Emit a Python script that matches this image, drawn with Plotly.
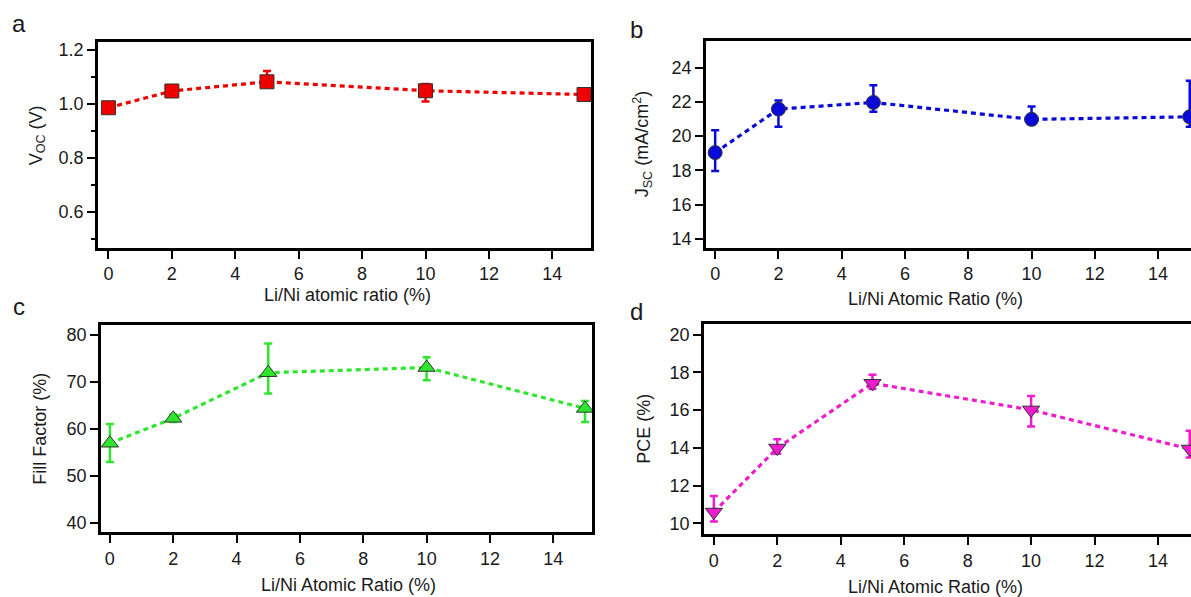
import plotly.graph_objects as go

# ---------------- data ----------------
ratio = [0, 2, 5, 10, 15]

voc = [0.985, 1.047, 1.081, 1.048, 1.034]
voc_err_up = [0.012, 0.012, 0.040, 0.025, 0.012]
voc_err_dn = [0.012, 0.012, 0.020, 0.040, 0.012]

jsc = [19.04, 21.58, 21.97, 20.98, 21.13]
jsc_err_up = [1.30, 0.50, 1.00, 0.75, 2.10]
jsc_err_dn = [1.07, 1.03, 0.55, 0.30, 0.58]

ff = [56.9, 62.2, 71.9, 73.0, 64.3]
ff_err_up = [4.1, 0.8, 6.2, 2.2, 1.6]
ff_err_dn = [4.0, 0.8, 4.4, 2.7, 2.9]

pce = [10.6, 13.99, 17.42, 16.01, 13.94]
pce_err_up = [0.85, 0.47, 0.45, 0.74, 0.96]
pce_err_dn = [0.50, 0.30, 0.30, 0.88, 0.45]

x_ticks = [0, 2, 4, 6, 8, 10, 12, 14]

# ---------------- figure ----------------
W, H = 1191, 597
FONT = "Liberation Sans, Arial, sans-serif"
TXT = "#1a1a1a"

def px_x(a, b):
    return [a / W, b / W]

def px_y(top, bottom):
    return [1 - bottom / H, 1 - top / H]

fig = go.Figure()

series = [
    dict(y=voc, up=voc_err_up, dn=voc_err_dn, color="#ee0000", symbol="square", size=14, xa="x", ya="y"),
    dict(y=jsc, up=jsc_err_up, dn=jsc_err_dn, color="#0a0ad8", symbol="circle", size=14, xa="x2", ya="y2"),
    dict(y=ff, up=ff_err_up, dn=ff_err_dn, color="#2ee62e", symbol="triangle-up", size=15, xa="x3", ya="y3"),
    dict(y=pce, up=pce_err_up, dn=pce_err_dn, color="#ee1ccc", symbol="triangle-down", size=15, xa="x4", ya="y4"),
]

for s in series:
    fig.add_trace(go.Scatter(
        x=ratio, y=s["y"], xaxis=s["xa"], yaxis=s["ya"],
        mode="lines+markers",
        line=dict(color=s["color"], width=3.2, dash="5px,4px"),
        marker=dict(symbol=s["symbol"], size=s["size"], color=s["color"],
                    line=dict(color="#333333", width=1)),
        error_y=dict(type="data", symmetric=False, array=s["up"], arrayminus=s["dn"],
                     color=s["color"], thickness=2.5, width=4),
        showlegend=False,
    ))

axis_common = dict(
    showline=True, linecolor="black", linewidth=2.5,
    ticks="outside", ticklen=8, tickwidth=2, tickcolor="black",
    showgrid=False, zeroline=False,
    tickfont=dict(family=FONT, size=18, color=TXT),
)

def xax(domain, rng, anchor, mirror):
    d = dict(axis_common)
    d.update(domain=domain, range=rng, anchor=anchor, mirror=mirror,
             tickmode="array", tickvals=x_ticks)
    return d

def yax(domain, rng, anchor, mirror, dtick, tick0, fmt=None, minor=None):
    d = dict(axis_common)
    d.update(domain=domain, range=rng, anchor=anchor, mirror=mirror,
             dtick=dtick, tick0=tick0)
    if fmt:
        d["tickformat"] = fmt
    if minor:
        d["minor"] = minor
    return d

dom_a_x, dom_a_y = px_x(98, 591), px_y(40, 247)
dom_b_x, dom_b_y = px_x(706, 1191), px_y(39, 247)
dom_c_x, dom_c_y = px_x(101, 592), px_y(325, 533)
dom_d_x, dom_d_y = px_x(704, 1191), px_y(324, 535)

fig.update_layout(
    width=W, height=H,
    margin=dict(l=0, r=0, t=0, b=0),
    paper_bgcolor="white", plot_bgcolor="white",
    font=dict(family=FONT, color=TXT),
    xaxis=xax(dom_a_x, [-0.33, 15.22], "y", True),
    yaxis=yax(dom_a_y, [0.467, 1.229], "x", True, 0.2, 0.0, fmt=".1f",
              minor=dict(ticks="outside", ticklen=4, tickwidth=2, dtick=0.1, tick0=0.1, tickcolor="black")),
    xaxis2=xax(dom_b_x, [-0.29, 15.04], "y2", True),
    yaxis2=yax(dom_b_y, [13.48, 25.57], "x2", False, 2, 0),
    xaxis3=xax(dom_c_x, [-0.28, 15.22], "y3", True),
    yaxis3=yax(dom_c_y, [37.95, 81.97], "x3", True, 10, 0),
    xaxis4=xax(dom_d_x, [-0.31, 15.04], "y4", True),
    yaxis4=yax(dom_d_y, [9.42, 20.54], "x4", False, 2, 0),
)

ann = []
# panel letters
for t, x, y in [("a", 19, 22), ("b", 636, 28), ("c", 19, 306), ("d", 636, 311)]:
    ann.append(dict(text=t, x=x / W, y=1 - y / H, xref="paper", yref="paper",
                    showarrow=False, font=dict(family=FONT, size=24, color=TXT),
                    xanchor="center", yanchor="middle"))
# x-axis titles
for t, x, y in [("Li/Ni atomic ratio (%)", 347, 294), ("Li/Ni Atomic Ratio (%)", 935, 298),
                ("Li/Ni Atomic Ratio (%)", 348, 586), ("Li/Ni Atomic Ratio (%)", 935, 588)]:
    ann.append(dict(text=t, x=x / W, y=1 - y / H, xref="paper", yref="paper",
                    showarrow=False, font=dict(family=FONT, size=18, color=TXT),
                    xanchor="center", yanchor="middle"))
# y-axis titles
for t, x, y in [("V<sub>OC</sub> (V)", 37, 134), ("J<sub>SC</sub> (mA/cm<sup>2</sup>)", 642, 143),
                ("Fill Factor (%)", 40, 429), ("PCE (%)", 644, 429)]:
    ann.append(dict(text=t, x=x / W, y=1 - y / H, xref="paper", yref="paper",
                    showarrow=False, font=dict(family=FONT, size=18, color=TXT),
                    textangle=-90, xanchor="center", yanchor="middle"))
fig.update_layout(annotations=ann)

fig.write_html("out.html", config={"displayModeBar": False},
               post_script="document.body.style.margin='0';document.body.style.overflow='hidden';")
